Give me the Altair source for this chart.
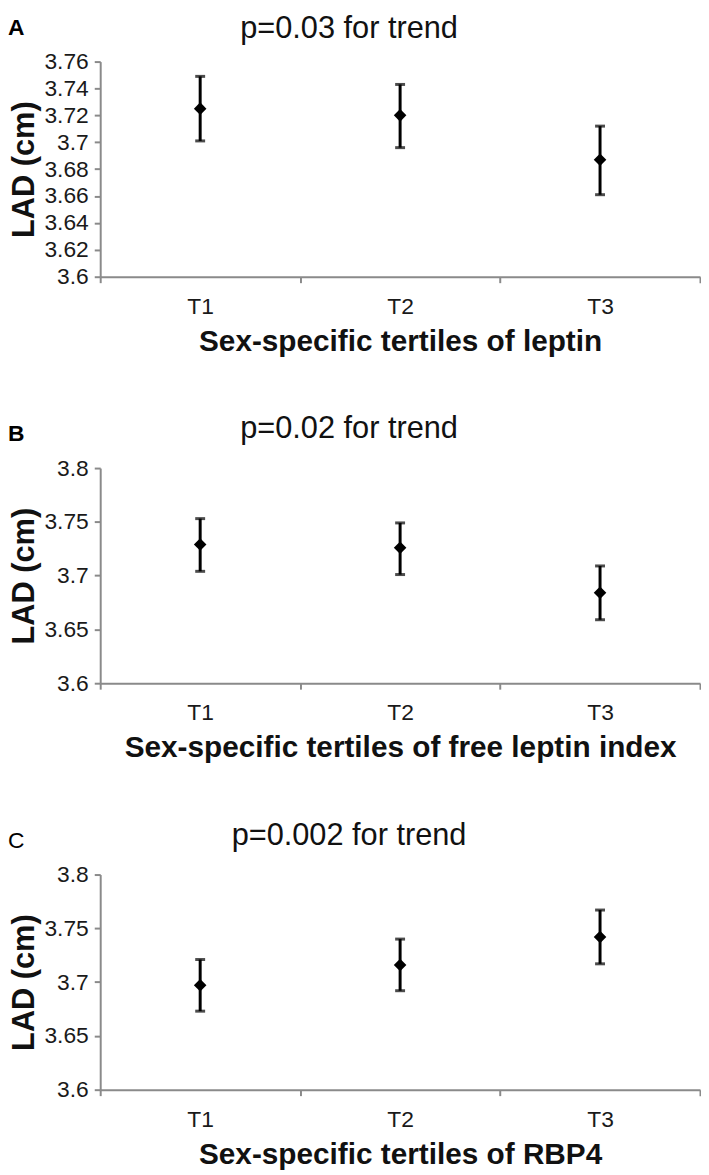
import altair as alt
import pandas as pd

TERTILES = ["T1", "T2", "T3"]
LETTERS = ["A", "B", "C"]
P_TITLES = ["p=0.03 for trend", "p=0.02 for trend", "p=0.002 for trend"]
X_TITLES = [
    "Sex-specific tertiles of leptin",
    "Sex-specific tertiles of free leptin index",
    "Sex-specific tertiles of RBP4",
]
Y_TITLE = "LAD (cm)"

A_MEAN = [3.725, 3.720, 3.687]
A_LO = [3.701, 3.696, 3.661]
A_HI = [3.749, 3.743, 3.712]

B_MEAN = [3.729, 3.726, 3.684]
B_LO = [3.704, 3.701, 3.659]
B_HI = [3.753, 3.749, 3.709]

C_MEAN = [3.697, 3.716, 3.742]
C_LO = [3.673, 3.692, 3.717]
C_HI = [3.721, 3.740, 3.767]

A_TICKS = [3.6, 3.62, 3.64, 3.66, 3.68, 3.7, 3.72, 3.74, 3.76]
BC_TICKS = [3.6, 3.65, 3.7, 3.75, 3.8]

FONT = "Liberation Sans, Arial, Helvetica, sans-serif"
W, H = 605, 217


def panel(letter, letter_bold, ptitle, xtitle, mean, lo, hi, ticks, title_y):
    df = pd.DataFrame({"tertile": TERTILES, "mean": mean, "lo": lo, "hi": hi})
    base = alt.Chart(df)
    xaxis = alt.Axis(
        title=xtitle, labelAngle=0, tickBand="extent", tickSize=6,
        labelFontSize=23, labelPadding=13, titleFontSize=30,
        titleFontWeight="bold", titlePadding=8,
    )
    yaxis = alt.Axis(
        title=Y_TITLE, values=ticks, format=".3~g", tickSize=6,
        labelFontSize=23, labelPadding=6, titleFontSize=31,
        titleFontWeight="bold", titleAngle=-90, titleX=-76, titleY=H / 2,
        titleAlign="center", titleBaseline="middle",
    )
    xs = alt.Scale(type="band", paddingInner=0, paddingOuter=0)
    ys = alt.Scale(domain=[ticks[0], ticks[-1]], nice=False, zero=False)
    x = alt.X("tertile:N", sort=TERTILES, scale=xs, axis=xaxis)

    rule = base.mark_rule(strokeWidth=3, color="black").encode(
        x=x, y=alt.Y("lo:Q", scale=ys, axis=yaxis), y2="hi:Q"
    )
    cap_lo = base.mark_tick(size=10, thickness=3, color="black").encode(
        x=x, y=alt.Y("lo:Q", scale=ys, axis=yaxis)
    )
    cap_hi = base.mark_tick(size=10, thickness=3, color="black").encode(
        x=x, y=alt.Y("hi:Q", scale=ys, axis=yaxis)
    )
    pt = base.mark_point(shape="diamond", filled=True, size=160, color="black", opacity=1).encode(
        x=x, y=alt.Y("mean:Q", scale=ys, axis=yaxis)
    )
    tdf = pd.DataFrame({"t": [ptitle]})
    title = alt.Chart(tdf).mark_text(
        fontSize=31, font=FONT, align="center", baseline="top", color="#111"
    ).encode(text="t:N", x=alt.value(251), y=alt.value(title_y))
    ldf = pd.DataFrame({"t": [letter]})
    lab = alt.Chart(ldf).mark_text(
        fontSize=23, font=FONT, fontWeight="bold" if letter_bold else "normal",
        align="left", baseline="alphabetic", color="#000"
    ).encode(text="t:N", x=alt.value(-93), y=alt.value(-27))
    return alt.layer(rule, cap_lo, cap_hi, pt, title, lab).properties(width=W, height=H)


pa = panel(LETTERS[0], True, P_TITLES[0], X_TITLES[0], A_MEAN, A_LO, A_HI, A_TICKS, -48)
pb = panel(LETTERS[1], True, P_TITLES[1], X_TITLES[1], B_MEAN, B_LO, B_HI, BC_TICKS, -54)
pc = panel(LETTERS[2], False, P_TITLES[2], X_TITLES[2], C_MEAN, C_LO, C_HI, BC_TICKS, -54)

chart = (
    alt.vconcat(pa, pb, pc, spacing=58)
    .properties(padding=0)
    .configure_view(stroke=None)
    .configure_axis(
        grid=False, domainColor="#8a8a8a", domainWidth=2, tickColor="#8a8a8a",
        tickWidth=2, labelColor="#1a1a1a", titleColor="#111", labelFont=FONT,
        titleFont=FONT,
    )
)

chart.save("out.html", embed_options={"renderer": "svg", "actions": False})
